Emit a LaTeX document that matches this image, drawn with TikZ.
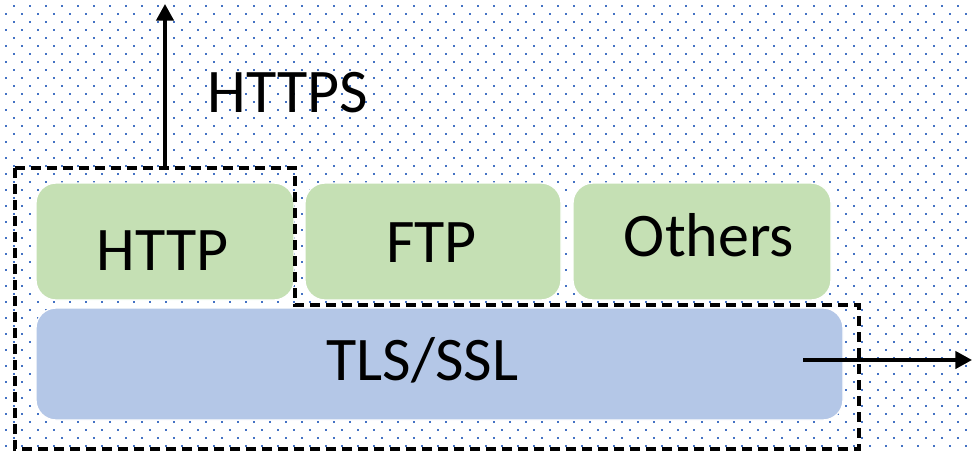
\documentclass[tikz,border=0pt]{standalone}
\usepackage{fontspec}
\setmainfont{Carlito}
\usetikzlibrary{arrows.meta}
\definecolor{dotblue}{HTML}{4472C4}
\definecolor{boxgreen}{HTML}{C5E0B4}
\definecolor{boxblue}{HTML}{B4C7E7}
\begin{document}
\begin{tikzpicture}[x=0.75pt,y=-0.75pt,
  layerbox/.style={rounded corners=15pt, draw=white, line width=1pt, inner sep=0pt},
  appbox/.style={layerbox, fill=boxgreen, minimum height=87.75pt},
  secbox/.style={layerbox, fill=boxblue, minimum height=84pt, minimum width=605.25pt},
  lbl/.style={font=\fontsize{46.5}{50}\selectfont, inner sep=0pt, anchor=base},
  scopeline/.style={dash pattern=on 7.5pt off 4.5pt, line width=2.4pt, black},
  flow/.style={line width=2.5pt, -{Triangle[length=12.5pt,width=13pt]}}]
  \useasboundingbox (0,0) rectangle (972,451);
  % dotted backdrop
  \foreach \r in {0,...,56}{
    \pgfmathsetmacro{\yy}{6+8*\r}
    \pgfmathsetmacro{\xo}{14-8*mod(\r,2)}
    \foreach \c in {0,...,60}{
      \fill[dotblue] (\xo+16*\c-1,\yy-1) rectangle ++(2,2);
    }
  }
  % protocol layers
  \node[appbox, minimum width=193.5pt] (http) at (165,241.5) {};
  \node[appbox, minimum width=192pt] (ftp) at (433,241.5) {};
  \node[appbox, minimum width=193.5pt] (others) at (702,241.5) {};
  \node[secbox] (tls) at (439.5,364) {};
  \node[lbl] (httplbl) at (162.5,270) {HTTP};
  \node[lbl] (ftplbl) at (431.5,262) {FTP};
  \node[lbl] (otherslbl) at (709,256) {Others};
  \node[lbl] (tlslbl) at (422.5,380) {TLS/SSL};
  \node[lbl] (httpslbl) at (288,112) {HTTPS};
  % HTTPS scope outline
  \coordinate (s1) at (15,168);
  \coordinate (s2) at (295,168);
  \coordinate (s3) at (295,305);
  \coordinate (s4) at (859,305);
  \coordinate (s5) at (859,449);
  \coordinate (s6) at (15,449);
  \draw[scopeline] (s1) -- (s2) -- (s3) -- (s4) -- (s5) -- (s6) -- cycle;
  % outgoing arrows
  \coordinate (upstart) at (165,168);
  \coordinate (uptop) at (165,4);
  \coordinate (rstart) at (803,360);
  \coordinate (rend) at (972,360);
  \draw[flow] (upstart) -- (uptop);
  \draw[flow] (rstart) -- (rend);
\end{tikzpicture}
\end{document}
